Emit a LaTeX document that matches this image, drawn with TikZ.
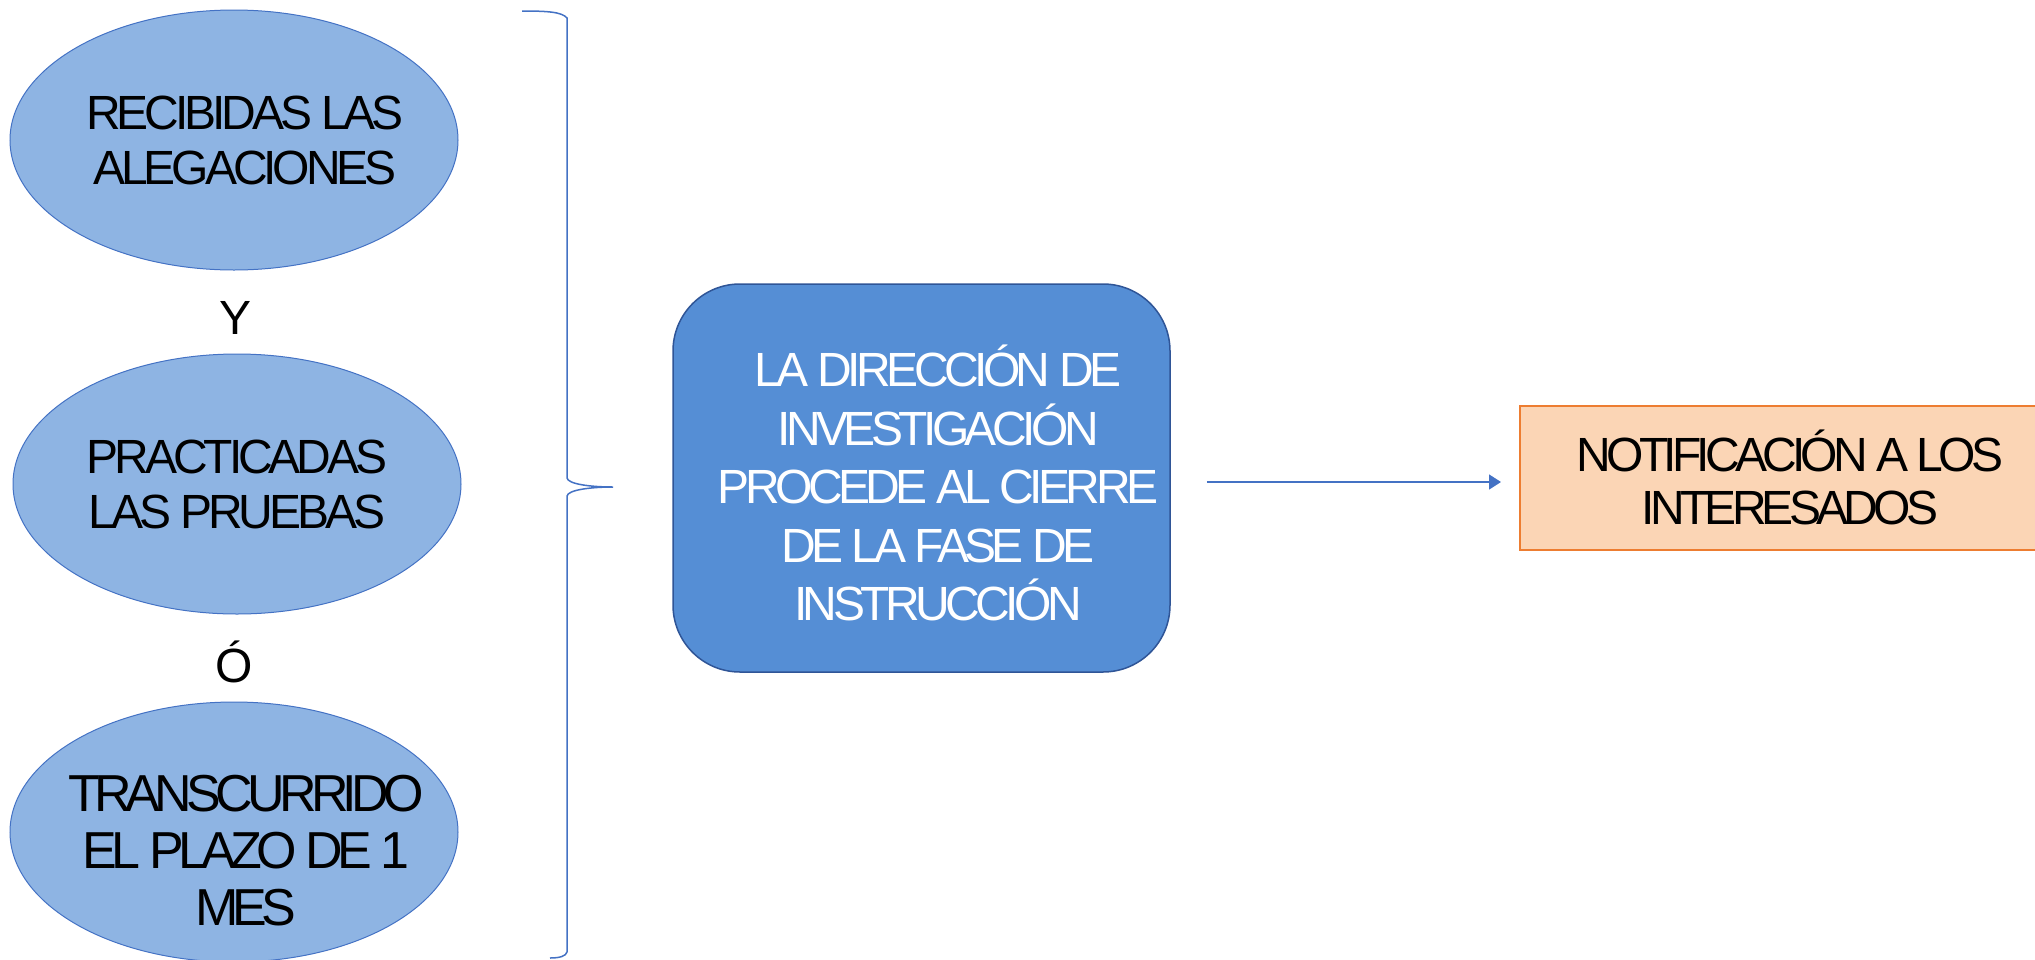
\documentclass[tikz,border=0pt]{standalone}
\usepackage{fontspec}
\setmainfont{Liberation Sans}
\usetikzlibrary{shapes.geometric,arrows.meta}
\definecolor{ellfill}{HTML}{8EB4E3}
\definecolor{lineblue}{HTML}{4472C4}
\definecolor{boxfill}{HTML}{558ED5}
\definecolor{boxline}{HTML}{2F5597}
\definecolor{notfill}{HTML}{FBD5B5}
\definecolor{notline}{HTML}{ED7D31}
\begin{document}
\begin{tikzpicture}[x=1pt,y=-1pt,
  ell/.style={ellipse, draw=lineblue, line width=1pt, fill=ellfill, minimum width=448pt, minimum height=260pt, inner sep=0pt},
  txt/.style={font=\fontsize{48}{55}\selectfont\addfontfeature{LetterSpace=-8.5}, align=center, text=black, inner sep=0pt},
  mainbox/.style={draw=boxline, line width=1.5pt, fill=boxfill, rounded corners=67pt, minimum width=497pt, minimum height=388pt, inner sep=0pt},
  notbox/.style={draw=notline, line width=2pt, fill=notfill, minimum width=526pt, minimum height=144pt, inner sep=0pt},
  conn/.style={draw=lineblue, line width=1.5pt, -{Triangle[length=12pt,width=15pt]}},
  bracestyle/.style={draw=lineblue, line width=1.5pt}
]
\useasboundingbox (0,0) rectangle (2035,959);
\node[ell] (e1) at (234,140) {};
\node[txt] (t1) at (245,140) {RECIBIDAS LAS\\ALEGACIONES};
\node[txt] (y) at (236,318) {Y};
\node[ell] (e2) at (237,484) {};
\node[txt] (t2) at (237,484) {PRACTICADAS\\LAS PRUEBAS};
\node[txt] (o) at (234,662) {Ó};
\node[ell] (e3) at (234,832) {};
\node[txt, font=\fontsize{52}{57}\selectfont\addfontfeature{LetterSpace=-11}] (t3) at (246,851) {TRANSCURRIDO\\EL PLAZO DE 1\\MES};

\path[bracestyle] (522,11) .. controls (548,11) and (562,12) .. (567,18) -- (567,478)
  .. controls (568,484) and (590,487) .. (613,487)
  .. controls (590,487) and (568,490) .. (567,496) -- (567,952)
  .. controls (566,956) and (560,958) .. (550,958);
\coordinate (tip) at (613,487);

\node[mainbox] (box) at (921.5,478) {};
\node[txt, text=white, font=\fontsize{48}{58.5}\selectfont\addfontfeature{LetterSpace=-9.5}] (tb) at (938,483) {LA DIRECCIÓN DE\\INVESTIGACIÓN\\PROCEDE AL CIERRE\\DE LA FASE DE\\INSTRUCCIÓN};

\begin{scope}
\clip (0,0) rectangle (2035,959);
\node[notbox] (notif) at (1783,478) {};
\end{scope}
\node[txt, font=\fontsize{48}{53}\selectfont\addfontfeature{LetterSpace=-10}] (tn) at (1790,477) {NOTIFICACIÓN A LOS\\INTERESADOS};

\draw[conn, shorten <=36pt, shorten >=18pt] ([yshift=-4pt]box.east) -- ([yshift=-4pt]notif.west);
\end{tikzpicture}
\end{document}
